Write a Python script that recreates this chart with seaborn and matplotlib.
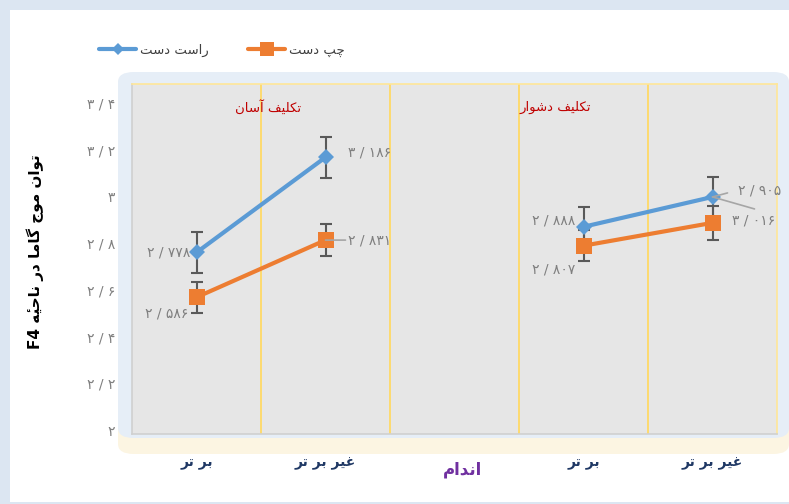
import re
import numpy as np
import pandas as pd
import seaborn as sns
import matplotlib.pyplot as plt
import matplotlib.transforms as mtransforms
from matplotlib.lines import Line2D
from matplotlib.patches import Rectangle, FancyBboxPatch

# chart data
categories = ['بر تر', 'غیر بر تر', '', 'بر تر', 'غیر بر تر']
tasks = ['easy', 'easy', 'none', 'hard', 'hard']
right_hand = [2.778, 3.186, np.nan, 2.888, 3.016]
left_hand = [2.586, 2.831, np.nan, 2.807, 2.905]
right_err = [0.086, 0.088, np.nan, 0.086, 0.086]
left_err = [0.067, 0.067, np.nan, 0.067, 0.073]
y_ticks = [2.0, 2.2, 2.4, 2.6, 2.8, 3.0, 3.2, 3.4]
series_names = ['راست دست', 'چپ دست']
task_names = ['تکلیف آسان', 'تکلیف دشوار']
x_title = 'اندام'
y_title = 'توان موج گاما در ناحیهٔ F4'

# arabic presentation forms: isolated, final, initial, medial
FORMS = {
    'ا': ('\uFE8D', '\uFE8E', None, None),
    'آ': ('\uFE81', '\uFE82', None, None),
    'ب': ('\uFE8F', '\uFE90', '\uFE91', '\uFE92'),
    'پ': ('\uFB56', '\uFB57', '\uFB58', '\uFB59'),
    'ت': ('\uFE95', '\uFE96', '\uFE97', '\uFE98'),
    'ج': ('\uFE9D', '\uFE9E', '\uFE9F', '\uFEA0'),
    'چ': ('\uFB7A', '\uFB7B', '\uFB7C', '\uFB7D'),
    'ح': ('\uFEA1', '\uFEA2', '\uFEA3', '\uFEA4'),
    'د': ('\uFEA9', '\uFEAA', None, None),
    'ر': ('\uFEAD', '\uFEAE', None, None),
    'س': ('\uFEB1', '\uFEB2', '\uFEB3', '\uFEB4'),
    'ش': ('\uFEB5', '\uFEB6', '\uFEB7', '\uFEB8'),
    'غ': ('\uFECD', '\uFECE', '\uFECF', '\uFED0'),
    'ف': ('\uFED1', '\uFED2', '\uFED3', '\uFED4'),
    'ک': ('\uFB8E', '\uFB8F', '\uFB90', '\uFB91'),
    'گ': ('\uFB92', '\uFB93', '\uFB94', '\uFB95'),
    'ل': ('\uFEDD', '\uFEDE', '\uFEDF', '\uFEE0'),
    'م': ('\uFEE1', '\uFEE2', '\uFEE3', '\uFEE4'),
    'ن': ('\uFEE5', '\uFEE6', '\uFEE7', '\uFEE8'),
    'ه': ('\uFEE9', '\uFEEA', '\uFEEB', '\uFEEC'),
    'و': ('\uFEED', '\uFEEE', None, None),
    'ی': ('\uFBFC', '\uFBFD', '\uFBFE', '\uFBFF'),
}
MARKS = '\u0654'


def fa(text):
    """ Shape persian text and put it in visual (left to right) order. """
    letters = [c for c in text if c not in MARKS]
    tokens = []
    for i, c in enumerate(letters):
        if c not in FORMS:
            tokens.append(c)
            continue
        prev = letters[i - 1] if i > 0 else ''
        nxt = letters[i + 1] if i + 1 < len(letters) else ''
        join_prev = prev in FORMS and FORMS[prev][2] is not None
        join_next = FORMS[c][2] is not None and nxt in FORMS
        if join_prev and join_next:
            tokens.append(FORMS[c][3])
        elif join_prev:
            tokens.append(FORMS[c][1])
        elif join_next:
            tokens.append(FORMS[c][2])
        else:
            tokens.append(FORMS[c][0])
    # put the combining marks back on their letters
    j = -1
    for c in text:
        if c in MARKS:
            tokens[j] += c
        else:
            j += 1
    s = ''.join(tokens[::-1])
    return re.sub(r'[A-Za-z0-9]+', lambda m: m.group(0)[::-1], s)


def fa_num(v, fmt):
    """ Number with persian digits and '/' as decimal sign. """
    s = format(v, fmt).replace('.', ' / ')
    return s.translate(str.maketrans('0123456789', '۰۱۲۳۴۵۶۷۸۹'))


df = pd.DataFrame({
    'pos': list(range(len(categories))) * 2,
    'task': tasks * 2,
    'value': right_hand + left_hand,
    'err': right_err + left_err,
    'series': [series_names[0]] * len(categories) + [series_names[1]] * len(categories),
}).dropna()

sns.set_theme(style='white')
plt.rcParams['font.family'] = ['DejaVu Sans']

fig = plt.figure(figsize=(7.89, 5.04), dpi=100)
fig.patch.set_facecolor('#dce6f2')

# white card and soft glow behind the plot area
fig.patches.append(Rectangle((10 / 789, 2 / 504), 779 / 789, 492 / 504, transform=fig.transFigure,
                             facecolor='white', edgecolor='none', zorder=-3))
fig.patches.append(FancyBboxPatch((118 / 789, 50 / 504), 671 / 789, 380 / 504, transform=fig.transFigure,
                                  boxstyle='round,pad=0.0,rounding_size=0.02',
                                  facecolor='#fcf5e2', edgecolor='none', zorder=-2))
fig.patches.append(FancyBboxPatch((118 / 789, 66 / 504), 671 / 789, 366 / 504, transform=fig.transFigure,
                                  boxstyle='round,pad=0.0,rounding_size=0.02',
                                  facecolor='#e6eef7', edgecolor='none', zorder=-1))

ax = fig.add_axes([132 / 789, 70 / 504, 645 / 789, 350 / 504])
ax.set_zorder(1)
ax.set_facecolor('#e6e6e6')

colors = ['#5b9bd5', '#ed7d31']
markers = ['D', 's']
msizes = [8, 12]

for name, color, marker, ms in zip(series_names, colors, markers, msizes):
    sub = df[df.series == name]
    ax.errorbar(sub.pos, sub.value, yerr=sub.err, fmt='none', ecolor='#595959',
                elinewidth=1.5, capsize=4.5, capthick=1.5, zorder=2)
    sns.lineplot(data=sub, x='pos', y='value', units='task', estimator=None, color=color,
                 marker=marker, markersize=ms, markeredgewidth=0, lw=3, ax=ax, zorder=3)

# data labels (offsets in pixels)
label_offsets = {
    (0, 0): (-6, 0, 'right', 'center'), (0, 1): (22, 5, 'left', 'center'),
    (0, 3): (-8, 6, 'right', 'center'), (0, 4): (20, -24, 'left', 'center'),
    (1, 0): (-8, -16, 'right', 'center'), (1, 1): (22, 0, 'left', 'center'),
    (1, 3): (-8, -24, 'right', 'center'), (1, 4): (25, 32, 'left', 'center'),
}
for si, vals in enumerate([right_hand, left_hand]):
    for xi, v in enumerate(vals):
        if np.isnan(v):
            continue
        dx, dy, ha, va = label_offsets[(si, xi)]
        ax.annotate(fa_num(v, '.3f'), (xi, v), xytext=(dx, dy), textcoords='offset pixels',
                    ha=ha, va=va, fontsize=10, color='#7f7f7f')

# leader lines to the labels on the right
ax.annotate('', (1, left_hand[1]), xytext=(20, 0), textcoords='offset pixels',
            arrowprops=dict(arrowstyle='-', color='#a6a6a6', lw=1.2, shrinkA=0, shrinkB=0))
ax.annotate('', (4, right_hand[4]), xytext=(15, 4), textcoords='offset pixels',
            arrowprops=dict(arrowstyle='-', color='#a6a6a6', lw=1.2, shrinkA=0, shrinkB=0))
ax.annotate('', (4, right_hand[4]), xytext=(42, -12), textcoords='offset pixels',
            arrowprops=dict(arrowstyle='-', color='#a6a6a6', lw=1.2, shrinkA=0, shrinkB=0))

# category separators
for x in np.arange(0.5, len(categories) - 1, 1):
    ax.axvline(x, color='#ffd966', lw=1.3, zorder=1)
for side in ['top', 'right', 'bottom', 'left']:
    ax.spines[side].set_visible(True)
    ax.spines[side].set_color('#ffe699')
    ax.spines[side].set_linewidth(1.2)
ax.spines['left'].set_color('#d0d0d0')
ax.spines['bottom'].set_color('#d0d0d0')

for x, name in zip([0.554, 2.779], task_names):
    ax.text(x, 0.934, fa(name), transform=ax.get_xaxis_transform(), ha='center', va='center',
            fontsize=9.5, color='#c00000')

ax.set_xlim(-0.5, len(categories) - 0.5)
ax.set_ylim(2.0, 3.5)
ax.set_xticks(range(len(categories)))
ax.set_xticklabels([fa(c) for c in categories], fontsize=10, fontweight='bold', color='#1f3864')
ax.set_yticks(y_ticks)
ax.set_yticklabels([fa_num(t, '.1f').replace(' / ۰', '') for t in y_ticks], fontsize=10, color='#808080')
ax.tick_params(axis='x', length=0, pad=16)
ax.tick_params(axis='y', length=0, pad=12)
shift_up = mtransforms.ScaledTranslation(0, 4 / 100, fig.dpi_scale_trans)
for lbl in ax.get_yticklabels():
    lbl.set_transform(lbl.get_transform() + shift_up)
ax.set_xlabel('')
ax.set_ylabel('')
ax.text(0.5 + 0.013, -0.1, fa(x_title), transform=ax.transAxes, ha='center', va='center',
        fontsize=12, fontweight='bold', color='#7030a0')
fig.text(35 / 789, 0.5, fa(y_title), rotation=90, ha='center', va='center',
         fontsize=11, fontweight='bold', color='black')

handles = [Line2D([], [], color=c, marker=m, markersize=s * 0.8, lw=3, markeredgewidth=0)
           for c, m, s in zip(colors, markers, msizes)]
fig.legend(handles, [fa(n) for n in series_names], ncol=2, loc='center',
           bbox_to_anchor=(222 / 789, 1 - 50 / 504), frameon=False, fontsize=9.5,
           labelcolor='#404040', handlelength=2.8, columnspacing=3, handletextpad=0.3)

fig.savefig('out.png', dpi=100, facecolor=fig.get_facecolor())
